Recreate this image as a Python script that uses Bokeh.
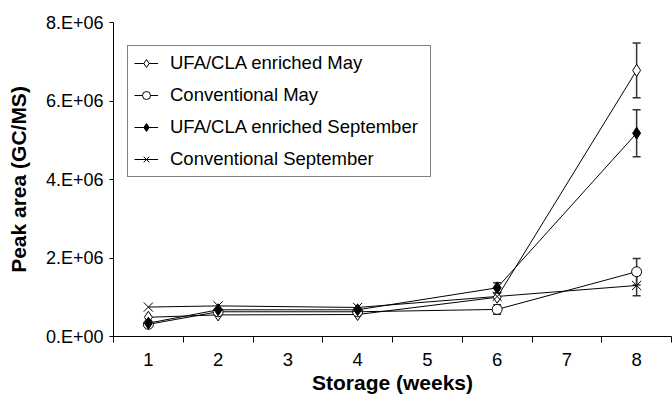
from bokeh.plotting import figure
from bokeh.models import (Range1d, FixedTicker, Legend, LegendItem, Whisker,
                          TeeHead, ColumnDataSource)
from bokeh.embed import file_html
from bokeh.resources import INLINE

# ---------------- data ----------------
weeks = [1, 2, 4, 6, 8]
ufa_may = [0.49e6, 0.55e6, 0.56e6, 1.00e6, 6.78e6]
conv_may = [0.31e6, 0.63e6, 0.63e6, 0.69e6, 1.65e6]
ufa_sep = [0.34e6, 0.68e6, 0.68e6, 1.24e6, 5.18e6]
conv_sep = [0.75e6, 0.78e6, 0.74e6, 1.02e6, 1.30e6]

err_ufa_may = [0, 0, 0, 0, 0.70e6]
err_conv_may = [0, 0, 0, 0.12e6, 0.34e6]
err_ufa_sep = [0, 0, 0, 0.13e6, 0.60e6]
err_conv_sep = [0, 0, 0, 0, 0.26e6]

series_names = ["UFA/CLA enriched May", "Conventional May",
                "UFA/CLA enriched September", "Conventional September"]

x_ticks = [1, 2, 3, 4, 5, 6, 7, 8]
x_tick_labels = ["1", "2", "3", "4", "5", "6", "7", "8"]
x_minor = [0.5, 1.5, 2.5, 3.5, 4.5, 5.5, 6.5, 7.5, 8.5]
y_ticks = [0, 2e6, 4e6, 6e6, 8e6]
y_tick_labels = ["0.E+00", "2.E+06", "4.E+06", "6.E+06", "8.E+06"]

FONT = "Liberation Sans"

p = figure(width=672, height=401, x_range=Range1d(0.5, 8.5),
           y_range=Range1d(0, 8e6), output_backend="svg",
           toolbar_location=None, min_border_left=113, min_border_right=1,
           min_border_top=22, min_border_bottom=65)
p.outline_line_color = None
p.xgrid.visible = False
p.ygrid.visible = False
p.background_fill_color = "white"
p.border_fill_color = "white"

# x axis
xa = p.xaxis[0]
xa.ticker = FixedTicker(ticks=x_ticks, minor_ticks=x_minor)
xa.major_label_overrides = {t: l for t, l in zip(x_ticks, x_tick_labels)}
xa.major_tick_out = 0
xa.major_tick_in = 0
xa.minor_tick_out = 6
xa.minor_tick_in = 0
xa.minor_tick_line_color = "black"
xa.axis_line_color = "black"
xa.major_label_text_font = FONT
xa.major_label_text_font_size = "18.5px"
xa.major_label_text_color = "black"
xa.major_label_standoff = 10
xa.axis_label = "Storage (weeks)"
xa.axis_label_text_font = FONT
xa.axis_label_text_font_style = "bold"
xa.axis_label_text_font_size = "21px"
xa.axis_label_text_color = "black"
xa.axis_label_standoff = 2

# y axis
ya = p.yaxis[0]
ya.ticker = FixedTicker(ticks=y_ticks, minor_ticks=[])
ya.major_label_overrides = {t: l for t, l in zip(y_ticks, y_tick_labels)}
ya.major_tick_out = 4
ya.major_tick_in = 0
ya.minor_tick_out = 0
ya.minor_tick_in = 0
ya.axis_line_color = "black"
ya.major_tick_line_color = "black"
ya.major_label_text_font = FONT
ya.major_label_text_font_size = "18px"
ya.major_label_text_color = "black"
ya.major_label_standoff = 6
ya.axis_label = "Peak area (GC/MS)"
ya.axis_label_text_font = FONT
ya.axis_label_text_font_style = "bold"
ya.axis_label_text_font_size = "21px"
ya.axis_label_text_color = "black"
ya.axis_label_standoff = 13

values = [ufa_may, conv_may, ufa_sep, conv_sep]
errors = [err_ufa_may, err_conv_may, err_ufa_sep, err_conv_sep]
markers = ["diamond", "circle", "diamond", "x"]
fills = ["white", "white", "black", "white"]
sizes = [12, 10, 12, 13]

# error bars
for vals, errs in zip(values, errors):
    xs = [w for w, e in zip(weeks, errs) if e > 0]
    up = [v + e for v, e in zip(vals, errs) if e > 0]
    lo = [v - e for v, e in zip(vals, errs) if e > 0]
    src = ColumnDataSource(dict(x=xs, upper=up, lower=lo))
    wk = Whisker(base="x", upper="upper", lower="lower", source=src,
                 line_color="#333333", line_width=1.5, level="underlay",
                 upper_head=TeeHead(size=8, line_color="#333333", line_width=1.5),
                 lower_head=TeeHead(size=8, line_color="#333333", line_width=1.5))
    p.add_layout(wk)

items = []
line_rs = []
for name, vals, mk, fc, sz in zip(series_names, values, markers, fills, sizes):
    lr = p.line(weeks, vals, line_color="black", line_width=1)
    line_rs.append((name, lr, mk, fc, sz, vals))

for name, lr, mk, fc, sz, vals in line_rs:
    sr = p.scatter(weeks, vals, marker=mk, size=sz, fill_color=fc,
                   line_color="black", line_width=1)
    items.append(LegendItem(label=name, renderers=[lr, sr]))

legend = Legend(items=items, location=(14, 159))
legend.label_text_font = FONT
legend.label_text_font_size = "18.5px"
legend.label_text_color = "black"
legend.border_line_color = "black"
legend.border_line_width = 1
legend.background_fill_color = "white"
legend.background_fill_alpha = 1
legend.padding = 6
legend.margin = 0
legend.spacing = 10
legend.glyph_width = 24
legend.glyph_height = 20
legend.label_height = 20
legend.label_width = 254
legend.label_standoff = 12
p.add_layout(legend)

open("out.html", "w").write(file_html(p, INLINE))
